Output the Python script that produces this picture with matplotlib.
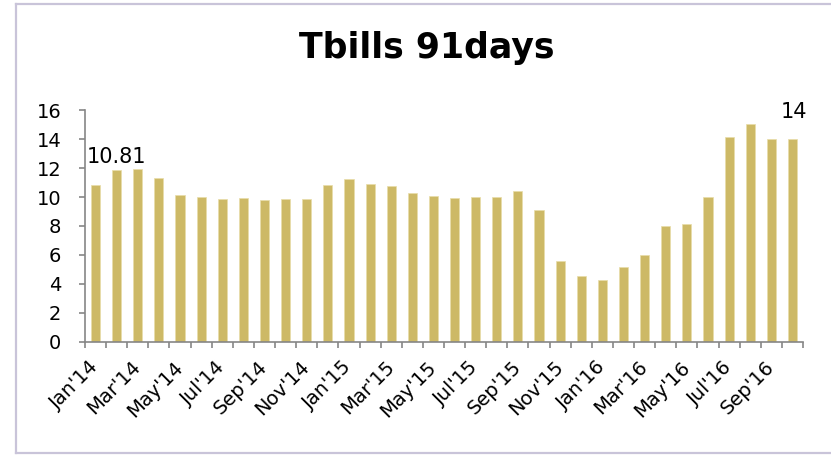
import numpy as np
import matplotlib.pyplot as plt
from matplotlib.lines import Line2D

# monthly 91-day T-bill rates, Jan'14 .. Oct'16
months = ["Jan'14", "Feb'14", "Mar'14", "Apr'14", "May'14", "Jun'14",
          "Jul'14", "Aug'14", "Sep'14", "Oct'14", "Nov'14", "Dec'14",
          "Jan'15", "Feb'15", "Mar'15", "Apr'15", "May'15", "Jun'15",
          "Jul'15", "Aug'15", "Sep'15", "Oct'15", "Nov'15", "Dec'15",
          "Jan'16", "Feb'16", "Mar'16", "Apr'16", "May'16", "Jun'16",
          "Jul'16", "Aug'16", "Sep'16", "Oct'16"]
rates = [10.81, 11.84, 11.94, 11.29, 10.12, 9.98, 9.89, 9.96, 9.78, 9.85,
         9.85, 10.83, 11.22, 10.88, 10.79, 10.26, 10.05, 9.96, 10.0, 10.0,
         10.40, 9.11, 5.62, 4.57, 4.29, 5.19, 6.01, 8.01, 8.13, 10.0,
         14.16, 15.01, 14.0, 14.0]
labelled = {0: "10.81", 33: "14"}

BAR = '#CDB966'
AXIS = '#868686'
FRAME = '#C9C4D9'

plt.rcParams['font.family'] = 'DejaVu Sans'

fig = plt.figure(figsize=(8.31, 4.55), dpi=100)
ax = fig.add_axes([0.1023, 0.2484, 0.864, 0.5098])

x = np.arange(len(rates))
ax.bar(x, rates, width=0.43, color=BAR, edgecolor='#E8DDA8', linewidth=0.5)

ax.set_xlim(-0.5, len(rates) - 0.5)
ax.set_ylim(0, 16)
ax.set_yticks(range(0, 17, 2))

# major ticks on category boundaries, labels on every other month
ax.set_xticks(np.arange(-0.5, len(rates), 1.0))
ax.set_xticklabels([])
ax.set_xticks(x[::2], minor=True)
ax.set_xticklabels(months[::2], minor=True, rotation=45, ha='right',
                   va='center', rotation_mode='anchor', fontsize=14)
ax.tick_params(axis='x', which='minor', length=0, pad=16)
ax.tick_params(axis='x', which='major', length=4, color=AXIS, width=1.2)
ax.tick_params(axis='y', length=4, color=AXIS, width=1.2, labelsize=14, pad=13)

for side in ['top', 'right']:
    ax.spines[side].set_visible(False)
for side in ['left', 'bottom']:
    ax.spines[side].set_color(AXIS)
    ax.spines[side].set_linewidth(1.2)

ax.annotate(labelled[0], xy=(0, rates[0]), xytext=(15, 20), textcoords='offset points',
            ha='center', va='center', fontsize=15)
ax.annotate(labelled[33], xy=(33, rates[33]), xytext=(1, 19.5), textcoords='offset points',
            ha='center', va='center', fontsize=15)

fig.text(0.514, 0.895, 'Tbills 91days', ha='center', va='center',
         fontsize=25, fontweight='bold')

# chart frame (left, top, bottom)
fl, ft, fb = 16 / 831, 1 - 4 / 455, 1 - 453 / 455
for xs, ys in [([fl, fl], [fb, ft]), ([fl, 1.0], [ft, ft]), ([fl, 1.0], [fb, fb])]:
    fig.add_artist(Line2D(xs, ys, transform=fig.transFigure, color=FRAME, linewidth=1.6))

fig.savefig('out.png', dpi=100)
